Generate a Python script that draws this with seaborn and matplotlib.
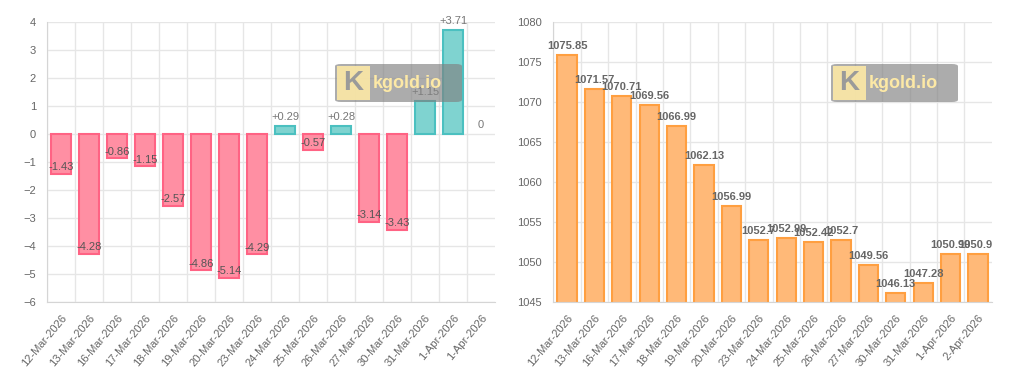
import matplotlib
matplotlib.use("Agg")
import numpy as np
import pandas as pd
import matplotlib.pyplot as plt
from matplotlib.patches import FancyBboxPatch, Rectangle
from matplotlib.transforms import Bbox
import seaborn as sns

# data
change_dates = ["12-Mar-2026", "13-Mar-2026", "16-Mar-2026", "17-Mar-2026", "18-Mar-2026",
                "19-Mar-2026", "20-Mar-2026", "23-Mar-2026", "24-Mar-2026", "25-Mar-2026",
                "26-Mar-2026", "27-Mar-2026", "30-Mar-2026", "31-Mar-2026", "1-Apr-2026",
                "1-Apr-2026"]
changes = [-1.43, -4.28, -0.86, -1.15, -2.57, -4.86, -5.14, -4.29, 0.29, -0.57,
           0.28, -3.14, -3.43, 1.15, 3.71, 0]

price_dates = ["12-Mar-2026", "13-Mar-2026", "16-Mar-2026", "17-Mar-2026", "18-Mar-2026",
               "19-Mar-2026", "20-Mar-2026", "23-Mar-2026", "24-Mar-2026", "25-Mar-2026",
               "26-Mar-2026", "27-Mar-2026", "30-Mar-2026", "31-Mar-2026", "1-Apr-2026",
               "2-Apr-2026"]
prices = [1075.85, 1071.57, 1070.71, 1069.56, 1066.99, 1062.13, 1056.99, 1052.7,
          1052.99, 1052.42, 1052.7, 1049.56, 1046.13, 1047.28, 1050.99, 1050.99]

PINK, PINK_EDGE = "#ff8fa3", "#ff6384"
TEAL, TEAL_EDGE = "#7fd3d0", "#4bc0c0"
ORANGE, ORANGE_EDGE = "#ffb978", "#ff9f40"
GRID = "#e6e6e6"
TXT = "#666666"

sns.set_style("white")
plt.rcParams["font.family"] = ["Liberation Sans", "DejaVu Sans"]

fig = plt.figure(figsize=(10.24, 3.73), dpi=100)
ax1 = fig.add_axes([47 / 1024, 1 - 301.7 / 373, 448 / 1024, 280 / 373])
ax2 = fig.add_axes([553.3 / 1024, 1 - 301.7 / 373, 438.4 / 1024, 280 / 373])


def style_axis(ax, labels, yticks):
    n = len(labels)
    ax.set_xlim(-0.5, n - 0.5)
    ax.set_xticks(range(n))
    ax.set_xticklabels(labels, rotation=50, ha="right", rotation_mode="anchor",
                       fontsize=8, color=TXT)
    ax.set_xticks(np.arange(n) - 0.5, minor=True)
    ax.tick_params(axis="x", which="major", length=0, pad=8)
    ax.tick_params(axis="x", which="minor", length=6, color=GRID, width=1)
    ax.set_yticks(yticks)
    ax.set_ylim(yticks[0], yticks[-1])
    ax.tick_params(axis="y", length=6, color=GRID, width=1, labelsize=8, labelcolor=TXT, pad=2)
    ax.grid(False)
    ax.grid(True, axis="x", which="minor", color=GRID, lw=1)
    ax.grid(True, axis="y", which="major", color=GRID, lw=1)
    ax.set_axisbelow(True)
    for s in ["top", "right"]:
        ax.spines[s].set_visible(False)
    for s in ["left", "bottom"]:
        ax.spines[s].set_color("#d5d5d5")
    ax.set_xlabel("")
    ax.set_ylabel("")


# left chart: daily change
df1 = pd.DataFrame({"pos": range(len(changes)), "change": changes})
df1["dir"] = np.where(df1["change"] < 0, "down", "up")
sns.barplot(data=df1, x="pos", y="change", hue="dir", dodge=False, width=0.72,
            palette={"down": PINK, "up": TEAL}, saturation=1, legend=False, ax=ax1,
            linewidth=1.5)
for p in ax1.patches:
    h = p.get_height()
    if h < 0:
        p.set_edgecolor(PINK_EDGE)
    elif h > 0:
        p.set_edgecolor(TEAL_EDGE)
    else:
        p.set_linewidth(0)
for i, v in enumerate(changes):
    if v < 0:
        txt, dy, col = f"{v:g}", 4.5, "#555555"
    else:
        txt, dy, col = (f"+{v:g}" if v > 0 else "0"), 6.5, "#777777"
    ax1.annotate(txt, (i, v), xytext=(0, dy), textcoords="offset points",
                 ha="center", va="center", fontsize=8, color=col, zorder=5,
                 annotation_clip=False)
style_axis(ax1, change_dates, list(range(-6, 5)))

# right chart: price
df2 = pd.DataFrame({"pos": range(len(prices)), "price": prices})
sns.barplot(data=df2, x="pos", y="price", color=ORANGE, saturation=1, width=0.7,
            ax=ax2, linewidth=1.5, edgecolor=ORANGE_EDGE)
style_axis(ax2, price_dates, list(range(1045, 1081, 5)))
ax2.set_ylim(1045, 1080)
# labels cut at the right edge of the chart area, as in the reference
clip = Bbox.from_extents(0, 0, 991.7, 373)
for i, v in enumerate(prices):
    t = ax2.annotate(f"{v:g}", (i, v), xytext=(0, 6.5), textcoords="offset points",
                     ha="center", va="center", fontsize=8, color=TXT, fontweight="bold",
                     annotation_clip=False)
    t.set_clip_box(clip)
    t.set_clip_on(True)


# watermark boxes
def watermark(x0):
    W, H = fig.get_size_inches() * fig.dpi
    box = FancyBboxPatch((x0 / W, 1 - 102 / H), 127 / W, 38 / H,
                         boxstyle="round,pad=0,rounding_size=0.006",
                         transform=fig.transFigure, facecolor="#808080", alpha=0.65,
                         edgecolor="none", zorder=10)
    fig.patches.append(box)
    sq = Rectangle(((x0 + 2) / W, 1 - 100 / H), 33 / W, 34 / H,
                   transform=fig.transFigure, facecolor="#fde9a6", edgecolor="none",
                   alpha=0.9, zorder=11)
    fig.patches.append(sq)
    fig.text((x0 + 18) / W, 1 - 83 / H, "K", ha="center", va="center", fontsize=20,
             fontweight="bold", color="#9a9a9a", zorder=12)
    fig.text((x0 + 38) / W, 1 - 83 / H, "kgold.io", ha="left", va="center", fontsize=13,
             fontweight="bold", color="#fde9a6", zorder=12)


watermark(335)
watermark(831)

fig.savefig("out.png", dpi=100)
